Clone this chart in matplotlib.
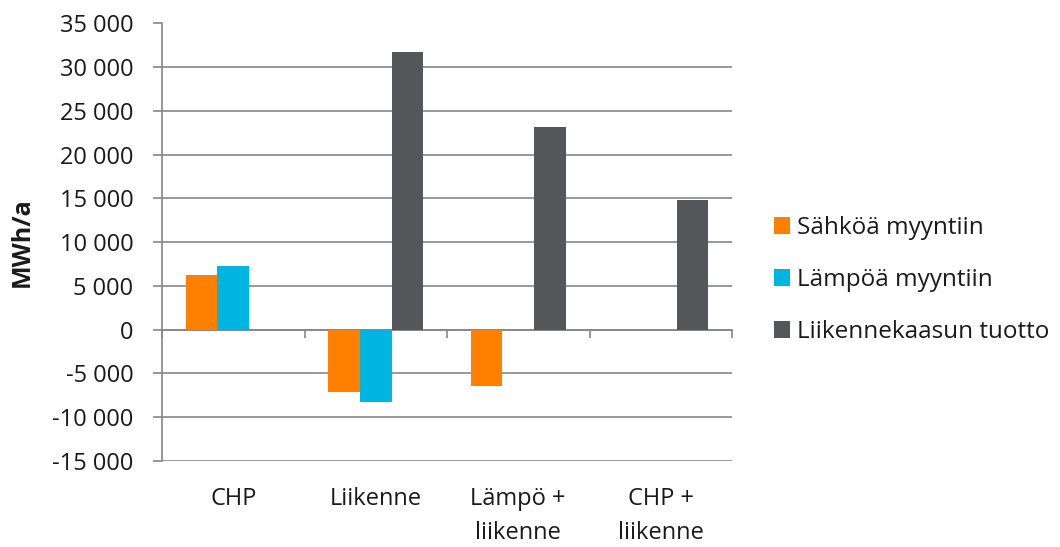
import matplotlib
matplotlib.use("Agg")
import matplotlib.pyplot as plt
from matplotlib.ticker import FuncFormatter, FixedLocator
import numpy as np

# Scenario categories and annual energy balances (MWh/a)
categories = ["CHP", "Liikenne", "Lämpö +\nliikenne", "CHP +\nliikenne"]
series_names = ["Sähköä myyntiin", "Lämpöä myyntiin", "Liikennekaasun tuotto"]
sahko = [6200, -7100, -6400, 0]
lampo = [7300, -8300, 0, 0]
liikennekaasu = [0, 31700, 23200, 14800]
y_ticks = list(range(-15000, 35001, 5000))

colors = ["#FF8000", "#00B5E2", "#53575A"]
grid_color = "#878787"
text_color = "#1A1A1A"

plt.rcParams["font.family"] = ["Open Sans", "DejaVu Sans"]

fig = plt.figure(figsize=(10.6, 5.47), dpi=100)
ax = fig.add_axes([162 / 1060, 1 - 461 / 547, 570 / 1060, (461 - 23.5) / 547])

x = np.arange(len(categories))
n = len(series_names)
bar_w = 1 / (n + 1.5)
for i, (vals, name, c) in enumerate(zip([sahko, lampo, liikennekaasu], series_names, colors)):
    offs = (i - (n - 1) / 2) * bar_w
    ax.bar(x + offs, vals, width=bar_w, color=c, label=name, zorder=3, linewidth=0)

ax.set_xlim(-0.5, len(categories) - 0.5)
ax.set_ylim(y_ticks[0], y_ticks[-1])

# Horizontal gridlines
ax.set_yticks(y_ticks)
ax.yaxis.grid(True, color=grid_color, linewidth=1.2, zorder=0)
ax.yaxis.set_major_formatter(FuncFormatter(lambda v, p: f"{int(v):,}".replace(",", " ")))
ax.tick_params(axis="y", length=6.5, width=1.2, color=grid_color, pad=14,
               labelsize=17, labelcolor=text_color)

# Category axis drawn along the zero line with boundary ticks
ax.spines["bottom"].set_position(("data", 0))
ax.spines["bottom"].set_color(grid_color)
ax.spines["bottom"].set_linewidth(1.2)
ax.xaxis.set_major_locator(FixedLocator(np.arange(len(categories) + 1) - 0.5))
ax.xaxis.set_major_formatter(FuncFormatter(lambda v, p: ""))
ax.tick_params(axis="x", length=6, width=1.2, color=grid_color, direction="out")

for s in ["top", "right"]:
    ax.spines[s].set_visible(False)
ax.spines["left"].set_color(grid_color)
ax.spines["left"].set_linewidth(1.2)

# Category labels below the plot area
sec = ax.secondary_xaxis(0)
sec.set_xticks(x)
sec.set_xticklabels(categories, fontsize=17, color=text_color, linespacing=1.55)
sec.tick_params(axis="x", length=0, pad=19)
sec.spines["bottom"].set_visible(False)

fig.text(22 / 1060, 1 - 242 / 547, "MWh/a", rotation=90, fontsize=18, fontweight="bold",
         color=text_color, ha="center", va="center")

leg = ax.legend(loc="center left", bbox_to_anchor=(774 / 1060, 1 - 280 / 547),
                bbox_transform=fig.transFigure, frameon=False, fontsize=17.5,
                handlelength=0.65, handleheight=0.65, handletextpad=0.3,
                labelspacing=1.15, borderpad=0, borderaxespad=0)
for t in leg.get_texts():
    t.set_color(text_color)

fig.savefig("out.png", dpi=100)
